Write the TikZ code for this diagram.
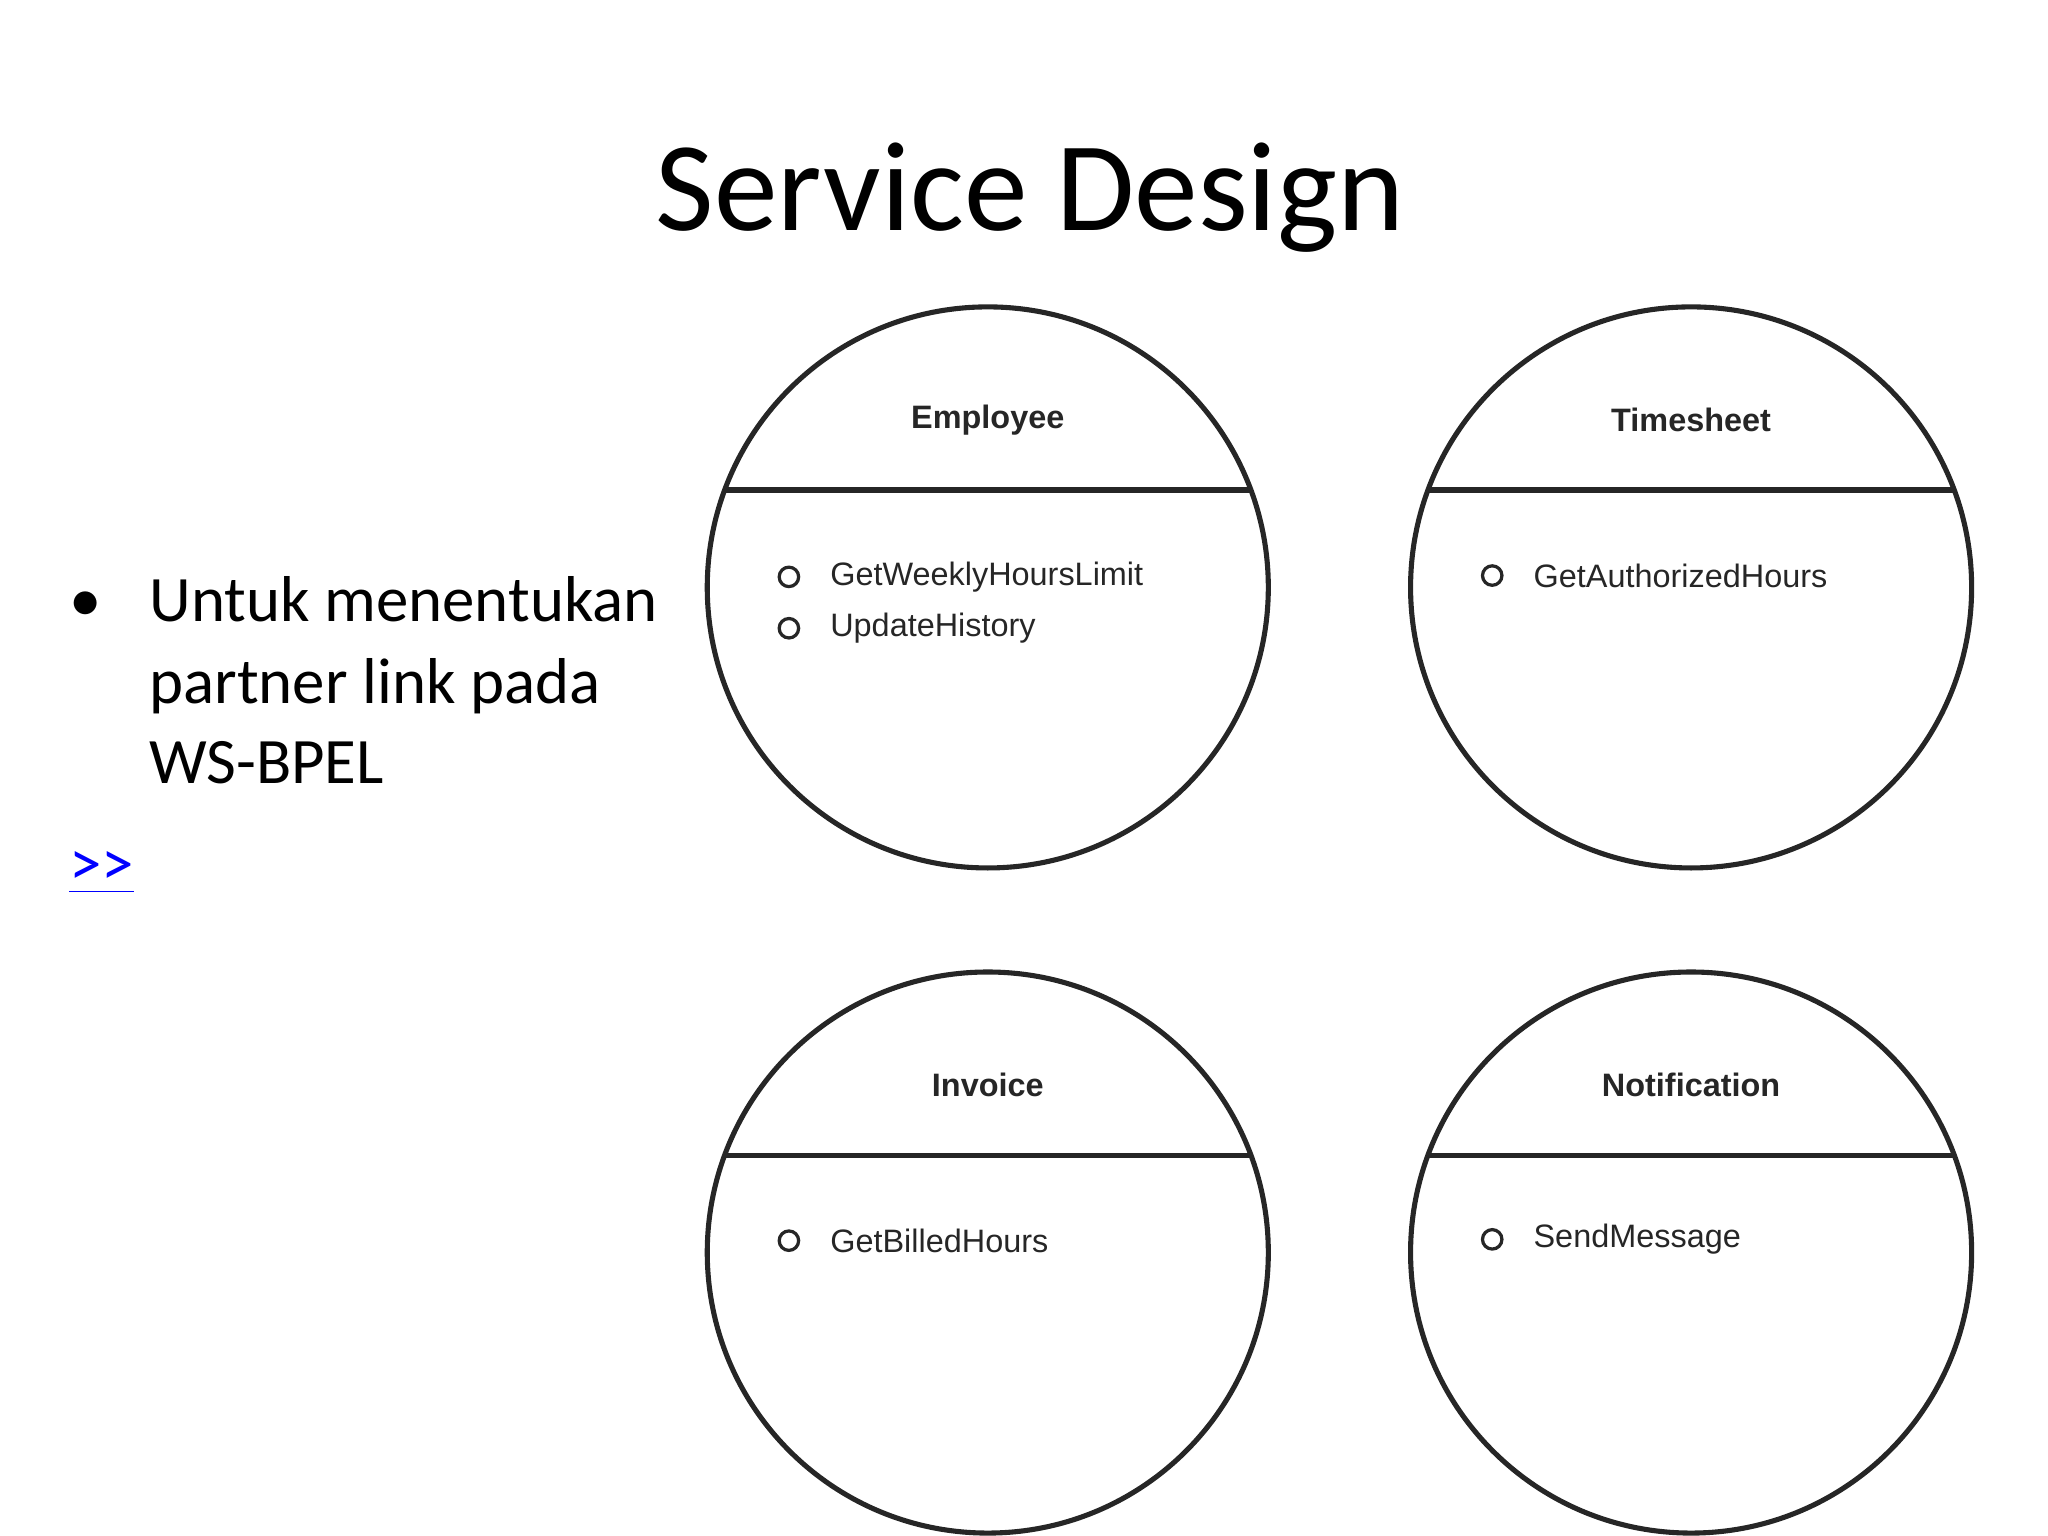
\documentclass[tikz,border=0pt]{standalone}
\usepackage{fontspec}
\setmainfont{Carlito}
\newfontfamily\arialf{Liberation Sans}
\begin{document}
\begin{tikzpicture}[x=0.01cm,y=-0.01cm,
  svc/.style={draw=black!85,line width=1.1pt},
  hdr/.style={font=\arialf\bfseries\fontsize{7}{9}\selectfont,text=black!85},
  op/.style={font=\arialf\fontsize{7}{9}\selectfont,text=black!85,anchor=west},
  dot/.style={draw=black!85,line width=0.7pt,circle,inner sep=0pt,minimum size=4.2pt},
  body/.style={font=\fontsize{14}{17}\selectfont,anchor=base west}]
\useasboundingbox (0,0) rectangle (1555,1166);
\node (title) at (782,150) {\fontsize{27.5}{33}\selectfont Service Design};
\node[body] (b1) at (40,472) {•};
\node[body] (l1) at (101,472) {Untuk menentukan};
\node[body] (l2) at (101,534) {partner link pada};
\node[body] (l3) at (101,595) {WS-BPEL};
\node[body,text=blue] (lnk) at (40,672) {\underline{{>}{>}}};
\foreach \n/\cx/\cy/\t in {emp/750/446/Employee,ts/1284/446/Timesheet,inv/750/951/Invoice,nt/1284/951/Notification}{
  \draw[svc] (\cx,\cy) circle (213);
  \draw[svc] (\cx-200,\cy-74) -- (\cx+200,\cy-74);
  \node[hdr] (\n) at (\cx,\cy-127) {\t};
}
\foreach \n/\x/\y/\t in {o1/599/438/GetWeeklyHoursLimit,o2/599/477/UpdateHistory,o3/1133/437/GetAuthorizedHours,o4/599/942/GetBilledHours,o5/1133/941/SendMessage}{
  \node[dot] (d\n) at (\x,\y) {};
  \node[op] (\n) at (\x+19,\y) {\t};
}
\end{tikzpicture}
\end{document}
